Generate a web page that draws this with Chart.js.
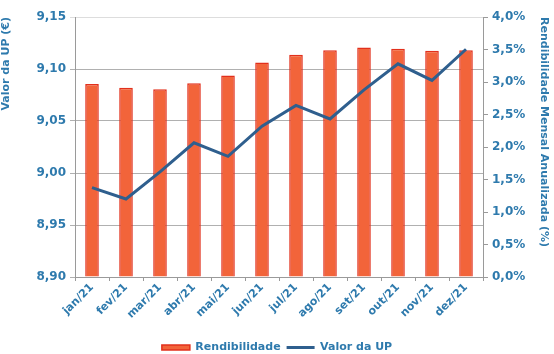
<!DOCTYPE html>
<html>
<head>
<meta charset="utf-8">
<script src="https://cdn.jsdelivr.net/npm/chart.js@4.4.1/dist/chart.umd.min.js"></script>
<style>
  html, body { margin: 0; padding: 0; background: #ffffff; }
  #wrap { width: 554px; height: 354px; position: relative; }
</style>
</head>
<body>
<div id="wrap"><canvas id="c" width="554" height="354"></canvas></div>
<script>
const categories = ["jan/21","fev/21","mar/21","abr/21","mai/21","jun/21","jul/21","ago/21","set/21","out/21","nov/21","dez/21"];
const rendibilidade = [2.97, 2.91, 2.89, 2.98, 3.10, 3.30, 3.42, 3.49, 3.53, 3.51, 3.48, 3.49];
const valorUP = [8.986, 8.975, 9.001, 9.029, 9.016, 9.045, 9.065, 9.052, 9.080, 9.105, 9.089, 9.119];
const leftTicks = [8.90, 8.95, 9.00, 9.05, 9.10, 9.15];
const rightTicks = [0, 0.5, 1.0, 1.5, 2.0, 2.5, 3.0, 3.5, 4.0];

const txt = '#2E7AAD';
const fontFam = '"DejaVu Sans", Verdana, sans-serif';

new Chart(document.getElementById('c'), {
  data: {
    labels: categories,
    datasets: [
      {
        type: 'bar',
        label: 'Rendibilidade',
        data: rendibilidade,
        yAxisID: 'y1',
        backgroundColor: '#F2643A',
        borderColor: '#E2301C',
        borderWidth: 1.5,
        barPercentage: 0.4,
        categoryPercentage: 1.0,
        pointStyle: 'rect',
        order: 1
      },
      {
        type: 'line',
        label: 'Valor da UP',
        data: valorUP,
        yAxisID: 'y',
        borderColor: '#2F5F8E',
        backgroundColor: '#2F5F8E',
        borderWidth: 3,
        pointRadius: 0,
        tension: 0,
        pointStyle: 'line',
        order: 0
      }
    ]
  },
  options: {
    responsive: false,
    animation: false,
    layout: { padding: { top: 17, left: 0, right: 0, bottom: -9 } },
    plugins: {
      tooltip: { enabled: false },
      legend: {
        position: 'bottom',
        labels: {
          usePointStyle: true,
          pointStyleWidth: 28,
          boxHeight: 5,
          color: txt,
          font: { family: fontFam, size: 11, weight: 'bold' },
          padding: 6,
          sort: (a, b) => a.datasetIndex - b.datasetIndex
        }
      }
    },
    scales: {
      x: {
        offset: true,
        grid: { display: true, drawOnChartArea: false, offset: true, tickLength: 4, color: '#9a9a9a' },
        border: { color: '#9a9a9a' },
        ticks: {
          color: txt,
          font: { family: fontFam, size: 11, weight: 'bold' },
          minRotation: 45, maxRotation: 45, padding: 0
        },
        afterFit: (s) => { s.height = 59; }
      },
      y: {
        position: 'left',
        min: 8.90, max: 9.15,
        afterBuildTicks: (s) => { s.ticks = leftTicks.map(v => ({ value: v })); },
        grid: {
          color: (ctx) => ctx.tick && ctx.tick.value >= 9.149 ? '#dddddd' : '#b0b0b0',
          tickLength: 5
        },
        border: { color: '#9a9a9a' },
        ticks: {
          color: txt,
          font: { family: fontFam, size: 12, weight: 'bold' },
          padding: 4,
          callback: (v) => Number(v).toFixed(2).replace('.', ',')
        },
        title: {
          display: true,
          text: 'Valor da UP (€)',
          align: 'end',
          color: txt,
          font: { family: fontFam, size: 11, weight: 'bold' },
          padding: { top: 0, bottom: 4 }
        },
        afterFit: (s) => { s.width = 75; }
      },
      y1: {
        position: 'right',
        min: 0, max: 4.0,
        afterBuildTicks: (s) => { s.ticks = rightTicks.map(v => ({ value: v })); },
        grid: { drawOnChartArea: false, tickLength: 5, color: '#9a9a9a' },
        border: { color: '#9a9a9a' },
        ticks: {
          color: txt,
          font: { family: fontFam, size: 12, weight: 'bold' },
          padding: 4,
          callback: (v) => Number(v).toFixed(1).replace('.', ',') + '%'
        },
        title: {
          display: true,
          text: 'Rendibilidade Mensal Anualizada (%)',
          align: 'end',
          color: txt,
          font: { family: fontFam, size: 11, weight: 'bold' },
          padding: { top: 4, bottom: 0 }
        },
        afterFit: (s) => { s.width = 71; }
      }
    }
  }
});
</script>
</body>
</html>
